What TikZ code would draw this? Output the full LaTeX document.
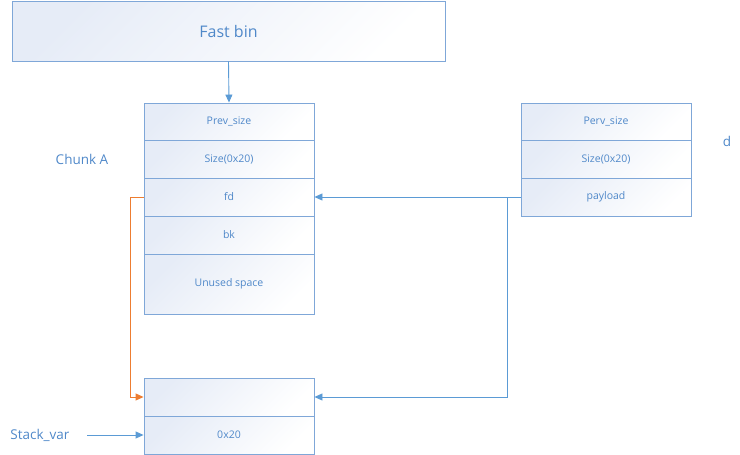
\documentclass[tikz,border=0pt]{standalone}
\usepackage{fontspec}
\setmainfont{Open Sans}
\usetikzlibrary{arrows.meta}
\definecolor{boxline}{HTML}{7FA7D8}
\definecolor{txtblue}{HTML}{4F88C9}
\definecolor{arrblue}{HTML}{5B9BD5}
\definecolor{fillblue}{HTML}{E6ECF7}
\definecolor{orng}{HTML}{ED7D31}
\tikzset{
  cell/.style={draw=boxline, line width=0.9pt, inner sep=0pt, minimum width=170pt,
    shading=axis, left color=fillblue, right color=white, shading angle=45,
    text=txtblue, font=\fontsize{10.5}{12}\selectfont},
  lbl/.style={text=txtblue, font=\fontsize{13.5}{15}\selectfont, inner sep=0pt},
  conn/.style={draw=arrblue, line width=0.9pt, -{Triangle[length=8pt,width=7pt]}},
  oconn/.style={draw=orng, line width=0.9pt, -{Triangle[length=8pt,width=7pt]}}
}
\begin{document}
\begin{tikzpicture}[x=1pt,y=-1pt]
\useasboundingbox (0,0) rectangle (740,455);
% Fast bin
\node[cell, minimum width=433pt, minimum height=60pt, font=\fontsize{16}{18}\selectfont] (fb) at (228.5,31) {Fast bin};
% Chunk A
\node[cell, minimum height=37pt] (ps) at (229,121.5) {Prev\_size};
\node[cell, minimum height=38pt] (sz) at (229,159) {Size(0x20)};
\node[cell, minimum height=38pt] (fd) at (229,197) {fd};
\node[cell, minimum height=38pt] (bk) at (229,235) {bk};
\node[cell, minimum height=60pt] (un) at (229,284) {Unused space};
\node[lbl] (ca) at (82,159) {Chunk A};
% right chunk
\node[cell, minimum height=37pt] (rps) at (606,121.5) {Perv\_size};
\node[cell, minimum height=38pt] (rsz) at (606,159) {Size(0x20)};
\node[cell, minimum height=38pt] (pl) at (606,197) {payload};
\node[lbl] (d) at (727,141) {d};
% bottom chunk
\node[cell, minimum height=38pt] (b1) at (229,397) {};
\node[cell, minimum height=38pt] (b2) at (229,435) {0x20};
\node[lbl] (sv) at (40,435) {Stack\_var};
% connectors
\draw[conn] (fb.south) -- (ps.north);
\draw[conn] (pl.west) -- (fd.east);
\coordinate (j) at (507,197);
\draw[conn] (j) -- (507,397) -- (b1.east);
\draw[oconn] (fd.west) -- (130,197) -- (130,397) -- (b1.west);
\draw[conn] (87,435) -- (b2.west);
\end{tikzpicture}
\end{document}
